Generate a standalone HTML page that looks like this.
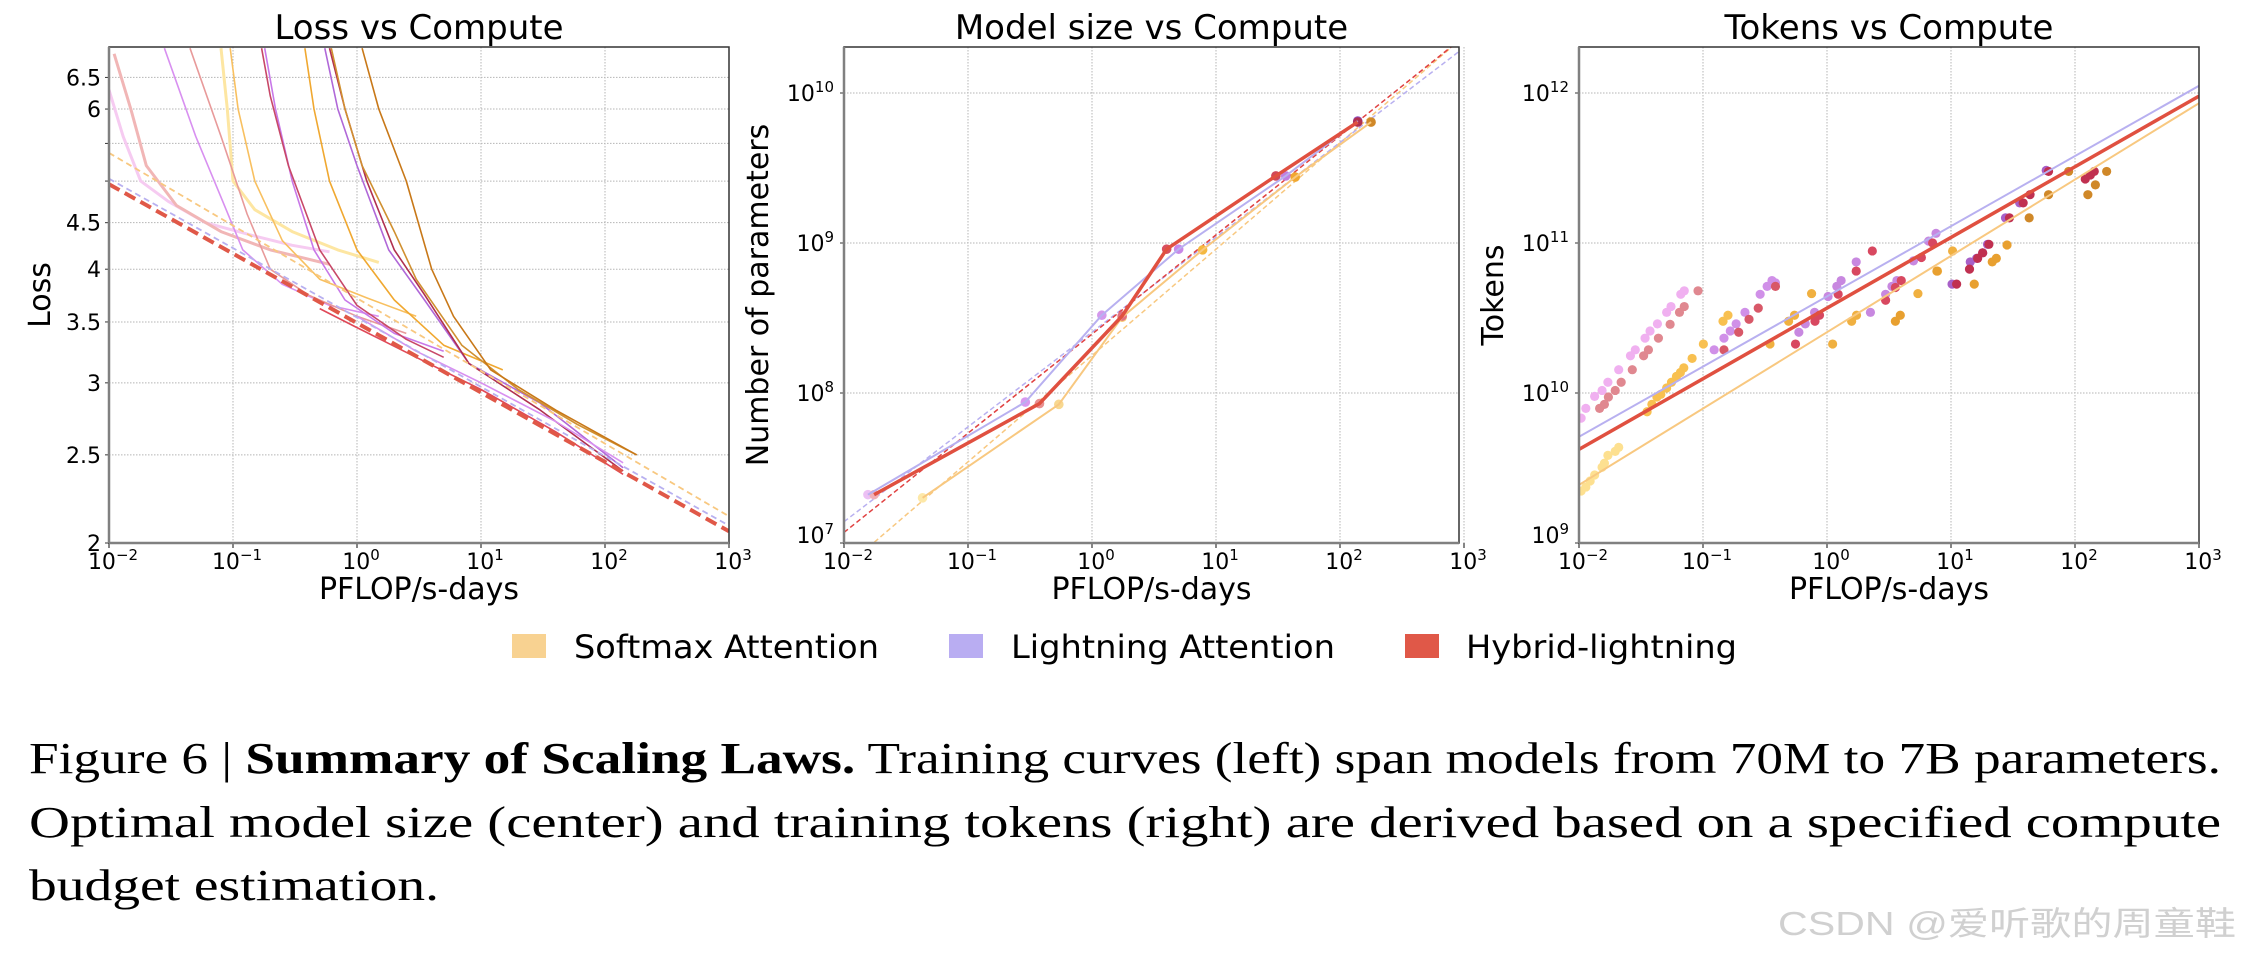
<!DOCTYPE html>
<html><head><meta charset="utf-8"><style>
html,body{margin:0;padding:0;background:#fff;}
svg{display:block;}
text{font-family:"DejaVu Sans","Liberation Sans",sans-serif;fill:#000;}
.cap{font-family:"Liberation Serif","DejaVu Serif",serif;}
</style></head><body>
<svg id="fig" width="2246" height="966" viewBox="0 0 2246 966" xmlns="http://www.w3.org/2000/svg">
<g id="p1"></g>
<g id="p2"></g>
<g id="p3"></g>
<g id="legend">
  <rect x="512" y="634" width="34" height="24" fill="#f8d291"/>
  <text x="574" y="658" font-size="32" textLength="305" lengthAdjust="spacingAndGlyphs">Softmax Attention</text>
  <rect x="949" y="634" width="34" height="24" fill="#b9adf2"/>
  <text x="1011" y="658" font-size="32" textLength="324" lengthAdjust="spacingAndGlyphs">Lightning Attention</text>
  <rect x="1405" y="634" width="34" height="24" fill="#e05848"/>
  <text x="1466" y="658" font-size="32" textLength="271" lengthAdjust="spacingAndGlyphs">Hybrid-lightning</text>
</g>
<g>
  <text class="cap" x="29" y="773" font-size="44" textLength="2192" lengthAdjust="spacingAndGlyphs">Figure 6 | <tspan font-weight="bold">Summary of Scaling Laws.</tspan> Training curves (left) span models from 70M to 7B parameters.</text>
  <text class="cap" x="29" y="837" font-size="44" textLength="2192" lengthAdjust="spacingAndGlyphs">Optimal model size (center) and training tokens (right) are derived based on a specified compute</text>
  <text class="cap" x="29" y="900" font-size="44" textLength="410" lengthAdjust="spacingAndGlyphs">budget estimation.</text>
</g>
<text x="2236" y="935" font-size="33" text-anchor="end" style="font-family:'Liberation Sans','Noto Sans CJK SC',sans-serif;fill:#d0d0d0" textLength="458" lengthAdjust="spacingAndGlyphs">CSDN @爱听歌的周童鞋</text>
</svg>
<script>
// ---------- data ----------
const xTickExps = [-2,-1,0,1,2,3];
const lossTicks = [2,2.5,3,3.5,4,4.5,5,5.5,6,6.5];
const lossTickLabels = ["2","2.5","3","3.5","4","4.5","","","6","6.5"];
const paramTickExps = [7,8,9,10];
const tokenTickExps = [9,10,11,12];

// Loss curves: compute values and loss values
const lossCurveColors = ["#f6cbf1","#f1b6b6","#fde6a2","#d890f0","#e89a9a","#f8c060","#c878e8","#c84868","#f0a830","#b068d8","#b03050","#d09030","#c87818","#e04858","#d890f0"];
const lossCurveX = [
 [0.01,0.013,0.018,0.03,0.06,0.15,0.3,0.6],
 [0.011,0.015,0.02,0.035,0.08,0.2,0.6],
 [0.08,0.09,0.1,0.15,0.3,0.7,1.5],
 [0.028,0.05,0.08,0.12,0.25,0.6,1.5],
 [0.045,0.08,0.13,0.2,0.4,1.0,2.5],
 [0.095,0.11,0.15,0.25,0.5,1.2,3],
 [0.18,0.22,0.3,0.45,0.8,2,5],
 [0.17,0.2,0.28,0.5,1,2.5,5],
 [0.38,0.45,0.6,1,2,5,15],
 [0.55,0.7,1,1.8,3.5,8,30,140],
 [0.6,0.8,1.2,2,3.5,8,30,140],
 [0.62,0.8,1.1,2,3,7,20,60,180],
 [1.1,1.5,2.5,4,6,12,40,180],
 [0.5,1,3,10,40,140],
 [1,3,10,40,140]
];
const lossCurveY = [
 [6.3,5.6,5.0,4.75,4.5,4.35,4.25,4.18],
 [6.9,6.0,5.2,4.7,4.4,4.2,4.05],
 [7.0,6.0,5.0,4.65,4.4,4.2,4.07],
 [7.0,5.6,4.8,4.2,3.85,3.65,3.55],
 [7.0,5.6,4.6,4.0,3.75,3.55,3.4],
 [7.0,6.0,5.0,4.3,3.9,3.72,3.55],
 [7.0,6.0,5.0,4.2,3.7,3.4,3.25],
 [7.0,6.2,5.2,4.2,3.65,3.35,3.2],
 [7.0,6.0,5.0,4.2,3.7,3.3,3.1],
 [7.0,6.0,5.2,4.2,3.7,3.15,2.85,2.42],
 [7.0,6.0,5.0,4.2,3.75,3.15,2.8,2.4],
 [7.0,6.0,5.2,4.4,3.9,3.3,2.95,2.7,2.5],
 [7.0,6.0,5.0,4.0,3.55,3.1,2.8,2.5],
 [3.62,3.45,3.2,2.95,2.65,2.38],
 [3.55,3.25,3.0,2.72,2.45]
];
// Loss fit lines (at compute 1e-2 and 1e3)
const lossFitNames = ["softmax","lightning","hybrid"];
const lossFitStart = [5.37,5.03,4.96];
const lossFitEnd = [2.14,2.09,2.06];

// Model size vs compute
const msHybridX = [0.0175,0.377,1.75,4.0,30.4,139];
const msHybridY = [2.1e7,8.5e7,3.26e8,9.1e8,2.8e9,6.4e9];
const msLightX = [0.0156,0.29,1.2,5.0,36.5,139];
const msLightY = [2.1e7,8.7e7,3.3e8,9.1e8,2.8e9,6.5e9];
const msSoftX = [0.043,0.54,1.75,7.8,43.5,178];
const msSoftY = [2.0e7,8.4e7,3.2e8,9.0e8,2.75e9,6.4e9];
// fit lines: log10 N = a + b*(log10 C + 2)
const msFitA = [6.832,7.142,7.071];
const msFitB = [0.709,0.632,0.661];

// Tokens vs compute scatter clusters
const tkColors = ["#f0b0f0","#e08890","#fde090","#f8c050","#d090e8","#d85868","#f0b040","#c888e0","#d84860","#e8a030","#a860c8","#c03050","#d08828"];
const tkX = [
 [0.0104,0.01135,0.01337,0.01535,0.0171,0.0209,0.026,0.02844,0.0341,0.0374,0.0429,0.0509,0.0552,0.0662,0.0706],
 [0.01466,0.01603,0.01726,0.01959,0.02188,0.0269,0.0332,0.0363,0.0437,0.0543,0.0646,0.0706,0.0912],
 [0.0104,0.01135,0.0123,0.01337,0.01535,0.01603,0.0171,0.01959,0.0209],
 [0.0354,0.0387,0.0425,0.0457,0.0509,0.0557,0.0611,0.0657,0.07,0.0817,0.1007,0.145,0.159],
 [0.123,0.1476,0.166,0.185,0.218,0.289,0.329,0.36,0.384],
 [0.1476,0.194,0.235,0.279,0.384],
 [0.347,0.49,0.547,0.751,1.11,1.58,1.73,5.41,7.78,10.3],
 [0.593,0.668,0.794,1.02,1.2,1.3,1.72,2.24,2.97,3.34,3.66,4.98,6.6,7.57],
 [0.557,0.80,0.87,1.23,1.72,2.32,2.97,3.56,3.97,5.77,7.11],
 [3.56,3.9,7.7,15.4,21.5,23.2,28.3],
 [10.2,14.3,16.1,18.0,19.7,27.5,35.8,58.6],
 [11.1,14.1,16.4,18.0,20.2,29.6,38.2,43.4,61.2,121,133,143],
 [42.7,61.2,88.9,127,146,180]
];
const tkY = [
 [6.8e9,7.9e9,9.5e9,1.04e10,1.18e10,1.43e10,1.77e10,1.94e10,2.32e10,2.59e10,2.89e10,3.45e10,3.77e10,4.55e10,4.8e10],
 [7.9e9,8.4e9,9.4e9,1.04e10,1.18e10,1.43e10,1.77e10,1.94e10,2.32e10,2.87e10,3.45e10,3.77e10,4.8e10],
 [2.22e9,2.36e9,2.59e9,2.84e9,3.2e9,3.4e9,3.84e9,4.08e9,4.34e9],
 [7.5e9,8.4e9,9.4e9,9.8e9,1.08e10,1.18e10,1.29e10,1.37e10,1.47e10,1.7e10,2.12e10,3.01e10,3.3e10],
 [1.94e10,2.32e10,2.59e10,2.89e10,3.45e10,4.55e10,5.14e10,5.62e10,5.42e10],
 [1.94e10,2.54e10,3.1e10,3.68e10,5.14e10],
 [2.12e10,3.01e10,3.3e10,4.6e10,2.12e10,3.01e10,3.3e10,4.6e10,6.5e10,8.85e10],
 [2.54e10,2.89e10,3.45e10,4.4e10,5.14e10,5.62e10,7.48e10,3.45e10,4.55e10,5.14e10,5.62e10,7.6e10,1.03e11,1.16e11],
 [2.12e10,3.01e10,3.3e10,4.55e10,6.5e10,8.85e10,4.15e10,5.05e10,5.62e10,8.0e10,1.0e11],
 [3.01e10,3.3e10,6.5e10,5.32e10,7.48e10,7.9e10,9.7e10],
 [5.32e10,7.48e10,7.9e10,8.6e10,9.8e10,1.47e11,1.85e11,3.05e11],
 [5.32e10,6.7e10,7.9e10,8.6e10,9.8e10,1.47e11,1.85e11,2.1e11,3.0e11,2.67e11,2.84e11,3.0e11],
 [1.47e11,2.1e11,3.0e11,2.1e11,2.44e11,3.0e11]
];
// token fit lines: log10 T = a + b*(log10 C + 2)
const tkFitA = [9.387,9.708,9.624];
const tkFitB = [0.509,0.468,0.471];

// ---------- helpers ----------
const NS = "http://www.w3.org/2000/svg";
function mk(parent, tag, attrs){ const e=document.createElementNS(NS,tag); for(const k in attrs) e.setAttribute(k,attrs[k]); parent.appendChild(e); return e; }
const TOP=47, BOT=543;
function xScale(L){ return c => L + (Math.log10(c)+2)*(620/5); }
function lossY(v){ return BOT - Math.log(v/2)*395; }

function frame(g, L, R){
  mk(g,'rect',{x:L,y:TOP,width:R-L,height:BOT-TOP,fill:'none',stroke:'#333','stroke-width':1.5});
  const l=mk(g,'line',{x1:L,y1:TOP,x2:L,y2:BOT,stroke:'#808080','stroke-width':2.5});
  
  
  const b=mk(g,'line',{x1:L,y1:BOT,x2:R,y2:BOT,stroke:'#808080','stroke-width':2.5});
  
  
}
function powLabel(g, x, y, exp, anchor){
  const t = mk(g,'text',{x:x,y:y,'font-size':22,'text-anchor':anchor});
  
  
  t.appendChild(document.createTextNode('10'));
  const s = mk(t,'tspan',{'font-size':15,dy:-9});
  s.textContent = String(exp).replace('-','\u2212');
  return t;
}
function xAxis(g, L, R, title, ylabel, ylabelX){
  const xs = xScale(L);
  xTickExps.forEach(e=>{
    const x = xs(Math.pow(10,e));
    mk(g,'line',{x1:x,y1:TOP,x2:x,y2:BOT,stroke:'#b5b5b5','stroke-width':1,'stroke-dasharray':'1.5,1.5'});
    mk(g,'line',{x1:x,y1:BOT,x2:x,y2:BOT+5,stroke:'#333','stroke-width':1.2});
    powLabel(g, x+4, 569, e, 'middle');
  });
  const xt = mk(g,'text',{x:(L+R)/2,y:599,'font-size':30,'text-anchor':'middle'});
  
  
  xt.textContent='PFLOP/s-days';
  const tt = mk(g,'text',{x:(L+R)/2,y:39,'font-size':34,'text-anchor':'middle'});
  
  
  tt.textContent=title;
  const yt = mk(g,'text',{x:0,y:0,'font-size':30,'text-anchor':'middle',transform:`translate(${ylabelX},295) rotate(-90)`});
  
  
  yt.textContent=ylabel;
}
function poly(g, xs, ys, X, Y, attrs){
  const pts = X.map((c,i)=>xs(c).toFixed(1)+','+ys(Y[i]).toFixed(1)).join(' ');
  return mk(g,'polyline',Object.assign({points:pts,fill:'none'},attrs));
}

// ---------- Plot 1: Loss ----------
(function(){
  const g=document.getElementById('p1'); const L=109,R=729; const xs=xScale(L);
  const clip=mk(g,'clipPath',{id:'c1'}); mk(clip,'rect',{x:L,y:TOP,width:R-L,height:BOT-TOP});
  lossTicks.forEach((v,i)=>{
    const y=lossY(v);
    mk(g,'line',{x1:L,y1:y,x2:R,y2:y,stroke:'#b5b5b5','stroke-width':1,'stroke-dasharray':'1.5,1.5'});
    mk(g,'line',{x1:L-4,y1:y,x2:L,y2:y,stroke:'#333','stroke-width':1});
    if(lossTickLabels[i]){ const t=mk(g,'text',{x:L-8,y:y+8,'font-size':22,'text-anchor':'end'});
      
      
      t.textContent=lossTickLabels[i]; }
  });
  xAxis(g,L,R,'Loss vs Compute','Loss',50);
  const cg=mk(g,'g',{'clip-path':'url(#c1)'});
  const fitCol=['#f8c880','#b8b0f0','#e05848'], fitW=[1.8,1.8,4], fitDash=['6,4','6,4','12,6'];
  lossCurveX.forEach((X,i)=>{
    const p=poly(cg,xs,lossY,X,lossCurveY[i],{stroke:lossCurveColors[i],'stroke-width':(i<3?3:1.6),'stroke-linejoin':'round'});
    
    
  });
  lossFitNames.forEach((n,i)=>{
    const p=poly(cg,xs,lossY,[0.01,1000],[lossFitStart[i],lossFitEnd[i]],{stroke:fitCol[i],'stroke-width':fitW[i],'stroke-dasharray':fitDash[i]});
    
    
  });
  frame(g,L,R);
})();

// ---------- Plot 2: Model size ----------
(function(){
  const g=document.getElementById('p2'); const L=844,R=1459; const xs=xScale(L);
  const ys=v=>BOT-(Math.log10(v)-7)*150;
  const clip=mk(g,'clipPath',{id:'c2'}); mk(clip,'rect',{x:L,y:TOP,width:R-L,height:BOT-TOP});
  paramTickExps.forEach(e=>{
    const y=ys(Math.pow(10,e));
    mk(g,'line',{x1:L,y1:y,x2:R,y2:y,stroke:'#b5b5b5','stroke-width':1,'stroke-dasharray':'1.5,1.5'});
    mk(g,'line',{x1:L-4,y1:y,x2:L,y2:y,stroke:'#333','stroke-width':1});
    powLabel(g,L-10,y+(e===7?0:8),e,'end');
  });
  xAxis(g,L,R,'Model size vs Compute','Number of parameters',768);
  const cg=mk(g,'g',{'clip-path':'url(#c2)'});
  const fitCol=['#f8c880','#b8b0f0','#e04040'];
  ['softmax','lightning','hybrid'].forEach((n,i)=>{
    const p=poly(cg,xs,ys,[0.01,1000],[Math.pow(10,msFitA[i]),Math.pow(10,msFitA[i]+5*msFitB[i])],{stroke:fitCol[i],'stroke-width':1.5,'stroke-dasharray':'5,3'});
    
    
  });
  const sets=[[msSoftX,msSoftY,'#f8c880',2,['#fde8a8','#f8d890','#f8c870','#f4b840','#f0a830','#d08828'],'softmax'],
              [msLightX,msLightY,'#b8b0f0',2,['#ecc0f4','#d898f0','#d498ec','#c888e8','#c080e0','#9050c0'],'lightning'],
              [msHybridX,msHybridY,'#e05040',3.5,['#f0b0b8','#e89090','#e07080','#d85060','#d04858','#b03050'],'hybrid']];
  sets.forEach(([X,Y,c,w,mc,n])=>{
    X.forEach((x,i)=>{ const d=mk(cg,'circle',{cx:xs(x),cy:ys(Y[i]),r:4.8,fill:mc[i]});
      
       });
  });
  sets.forEach(([X,Y,c,w,mc,n])=>{
    const p=poly(cg,xs,ys,X,Y,{stroke:c,'stroke-width':w,'stroke-linejoin':'round'});
    
    
  });
  frame(g,L,R);
})();

// ---------- Plot 3: Tokens ----------
(function(){
  const g=document.getElementById('p3'); const L=1579,R=2199; const xs=xScale(L);
  const ys=v=>BOT-(Math.log10(v)-9)*150;
  const clip=mk(g,'clipPath',{id:'c3'}); mk(clip,'rect',{x:L,y:TOP,width:R-L,height:BOT-TOP});
  tokenTickExps.forEach(e=>{
    const y=ys(Math.pow(10,e));
    mk(g,'line',{x1:L,y1:y,x2:R,y2:y,stroke:'#b5b5b5','stroke-width':1,'stroke-dasharray':'1.5,1.5'});
    mk(g,'line',{x1:L-4,y1:y,x2:L,y2:y,stroke:'#333','stroke-width':1});
    powLabel(g,L-10,y+(e===9?0:8),e,'end');
  });
  xAxis(g,L,R,'Tokens vs Compute','Tokens',1503);
  const cg=mk(g,'g',{'clip-path':'url(#c3)'});
  tkX.forEach((X,k)=>{
    X.forEach((x,i)=>{ const d=mk(cg,'circle',{cx:xs(x),cy:ys(tkY[k][i]),r:4.6,fill:tkColors[k]});
      
       });
  });
  const fitCol=['#f8c880','#b8b0f0','#e05040'], fitW=[2,2,3.5];
  ['softmax','lightning','hybrid'].forEach((n,i)=>{
    const p=poly(cg,xs,ys,[0.01,1000],[Math.pow(10,tkFitA[i]),Math.pow(10,tkFitA[i]+5*tkFitB[i])],{stroke:fitCol[i],'stroke-width':fitW[i]});
    
    
  });
  frame(g,L,R);
})();
</script>
</body></html>
